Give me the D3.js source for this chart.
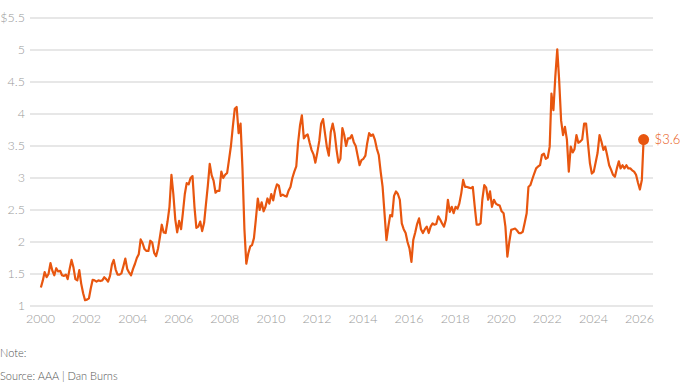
<!DOCTYPE html>
<html>
<head>
<meta charset="utf-8">
<script src="https://cdn.jsdelivr.net/npm/d3@7"></script>
<style>
  html, body { margin: 0; padding: 0; background: #fff; }
  svg { display: block; }
  text { font-family: Lato, "Open Sans", "DejaVu Sans", sans-serif; }
</style>
</head>
<body>
<svg id="chart" width="680" height="383"></svg>
<script>
// ---- Data (monthly average regular gasoline price, USD/gal) ----
const prices = [
  // 2000
  1.29, 1.40, 1.53, 1.45, 1.50, 1.67, 1.55, 1.48, 1.59, 1.54, 1.55, 1.48,
  // 2001
  1.47, 1.49, 1.42, 1.58, 1.72, 1.60, 1.42, 1.40, 1.56, 1.35, 1.20, 1.09,
  // 2002
  1.10, 1.12, 1.27, 1.41, 1.40, 1.38, 1.40, 1.39, 1.40, 1.45, 1.42, 1.38,
  // 2003
  1.47, 1.65, 1.72, 1.57, 1.49, 1.49, 1.51, 1.62, 1.74, 1.58, 1.52, 1.48,
  // 2004
  1.58, 1.66, 1.75, 1.81, 2.04, 1.98, 1.89, 1.86, 1.86, 2.02, 1.99, 1.83,
  // 2005
  1.78, 1.90, 2.07, 2.27, 2.15, 2.14, 2.32, 2.55, 3.05, 2.75, 2.35, 2.15,
  // 2006
  2.33, 2.20, 2.45, 2.75, 2.92, 2.90, 3.00, 3.03, 2.55, 2.22, 2.24, 2.32,
  // 2007
  2.17, 2.30, 2.58, 2.88, 3.22, 3.04, 2.96, 2.77, 2.80, 2.80, 3.10, 3.00,
  // 2008
  3.05, 3.08, 3.28, 3.50, 3.80, 4.08, 4.11, 3.70, 3.85, 3.15, 2.20, 1.66,
  // 2009
  1.82, 1.93, 1.95, 2.06, 2.35, 2.68, 2.50, 2.62, 2.48, 2.55, 2.68, 2.60,
  // 2010
  2.75, 2.65, 2.80, 2.90, 2.88, 2.72, 2.74, 2.72, 2.71, 2.80, 2.86, 3.00,
  // 2011
  3.10, 3.18, 3.54, 3.82, 3.98, 3.62, 3.66, 3.68, 3.55, 3.44, 3.37, 3.24,
  // 2012
  3.40, 3.58, 3.85, 3.92, 3.70, 3.48, 3.35, 3.72, 3.85, 3.70, 3.44, 3.24,
  // 2013
  3.30, 3.78, 3.68, 3.50, 3.62, 3.62, 3.67, 3.56, 3.50, 3.35, 3.20, 3.28,
  // 2014
  3.30, 3.35, 3.54, 3.70, 3.66, 3.68, 3.60, 3.46, 3.36, 3.10, 2.86, 2.45,
  // 2015
  2.03, 2.25, 2.42, 2.40, 2.72, 2.79, 2.75, 2.66, 2.29, 2.20, 2.14, 2.00,
  // 2016
  1.90, 1.69, 2.03, 2.15, 2.28, 2.37, 2.20, 2.14, 2.20, 2.24, 2.14, 2.24,
  // 2017
  2.29, 2.27, 2.28, 2.40, 2.35, 2.29, 2.24, 2.35, 2.66, 2.47, 2.55, 2.45,
  // 2018
  2.55, 2.52, 2.60, 2.76, 2.97, 2.86, 2.86, 2.85, 2.84, 2.86, 2.55, 2.27,
  // 2019
  2.27, 2.29, 2.66, 2.89, 2.85, 2.66, 2.79, 2.55, 2.66, 2.60, 2.58, 2.57,
  // 2020
  2.48, 2.45, 2.24, 1.77, 2.00, 2.19, 2.20, 2.21, 2.18, 2.14, 2.14, 2.16,
  // 2021
  2.30, 2.45, 2.86, 2.89, 2.98, 3.07, 3.15, 3.18, 3.20, 3.36, 3.38, 3.30,
  // 2022
  3.32, 3.49, 4.32, 4.06, 4.58, 5.01, 4.53, 3.90, 3.67, 3.80, 3.60, 3.10,
  // 2023
  3.49, 3.40, 3.45, 3.67, 3.55, 3.57, 3.60, 3.85, 3.85, 3.54, 3.23, 3.07,
  // 2024
  3.10, 3.25, 3.39, 3.67, 3.57, 3.44, 3.49, 3.35, 3.20, 3.13, 3.05, 3.02,
  // 2025
  3.15, 3.26, 3.15, 3.20, 3.15, 3.20, 3.15, 3.15, 3.12, 3.10, 3.05, 2.93,
  // 2026
  2.82, 2.97, 3.60
];
const yTicks = [1, 1.5, 2, 2.5, 3, 3.5, 4, 4.5, 5, 5.5];
const xTickYears = [2000, 2002, 2004, 2006, 2008, 2010, 2012, 2014, 2016, 2018, 2020, 2022, 2024, 2026];
const lastLabel = "$3.6";
const noteText = "Note:";
const sourceText = "Source: AAA | Dan Burns";

// ---- Layout ----
const orange = "#e8560f";
const svg = d3.select("#chart");
// one value per month, placed mid-month starting January 2000
const data = prices.map((v, i) => ({ date: d3.timeMonth.offset(new Date(2000, 0, 15), i), value: v }));

const x = d3.scaleTime()
  .domain([new Date(2000, 0, 1), new Date(2026, 0, 1)])
  .range([40, 639]);
const y = d3.scaleLinear().domain([1, 5.5]).range([306, 18]);

// gridlines
svg.append("g").selectAll("line").data(yTicks).join("line")
  .attr("x1", 30).attr("x2", 653)
  .attr("y1", d => y(d)).attr("y2", d => y(d))
  .attr("stroke", "#cfcfcf").attr("stroke-width", 1);

// y labels
svg.append("g").selectAll("text").data(yTicks).join("text")
  .attr("x", 25).attr("y", d => y(d)).attr("dy", "0.35em")
  .attr("text-anchor", "end")
  .attr("fill", "#999").attr("font-size", 12.5).attr("font-weight", 300)
  .text(d => (d === 5.5 ? "$" : "") + d3.format("~g")(d));

// x axis labels
const xAxis = d3.axisBottom(x)
  .tickValues(xTickYears.map(yr => new Date(yr, 0, 1)))
  .tickFormat(d3.timeFormat("%Y"))
  .tickSize(0).tickPadding(0);
const gx = svg.append("g").attr("transform", "translate(0,314)").call(xAxis);
gx.select(".domain").remove();
gx.selectAll("text")
  .attr("fill", "#999").attr("font-size", 12.5).attr("font-weight", 300)
  .attr("font-family", "Lato, 'Open Sans', sans-serif");

// line
const line = d3.line().x(d => x(d.date)).y(d => y(d.value)).curve(d3.curveLinear);
svg.append("path").datum(data)
  .attr("fill", "none").attr("stroke", orange)
  .attr("stroke-width", 2.2).attr("stroke-linejoin", "round")
  .attr("d", line);

// end point
const last = data[data.length - 1];
svg.append("circle")
  .attr("cx", x(last.date)).attr("cy", y(last.value)).attr("r", 5.5)
  .attr("fill", orange);
svg.append("text")
  .attr("x", x(last.date) + 11).attr("y", y(last.value)).attr("dy", "0.35em")
  .attr("fill", orange).attr("font-size", 13).attr("font-weight", 300)
  .text(lastLabel);

// footer
svg.append("text").attr("x", 0).attr("y", 357)
  .attr("fill", "#555").attr("font-size", 11).attr("font-weight", 300)
  .text(noteText);
svg.append("text").attr("x", 0).attr("y", 380)
  .attr("fill", "#555").attr("font-size", 11).attr("font-weight", 300)
  .text(sourceText);
</script>
</body>
</html>
